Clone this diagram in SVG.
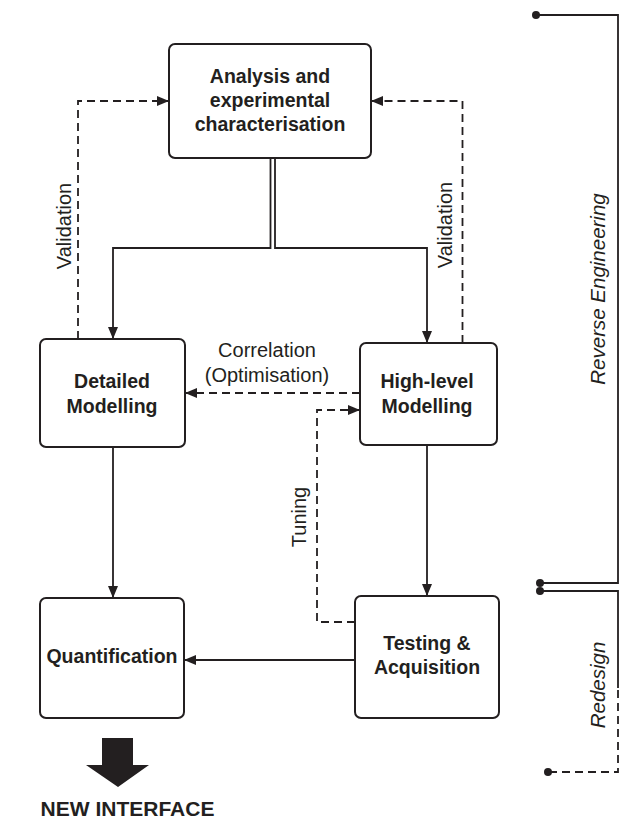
<svg xmlns="http://www.w3.org/2000/svg" width="620" height="819" viewBox="0 0 620 819">
<defs>
<style>
.box{fill:#fff;stroke:#231f20;stroke-width:2}
.ln{fill:none;stroke:#231f20;stroke-width:1.8}
.dash{fill:none;stroke:#231f20;stroke-width:1.8;stroke-dasharray:8 5}
.b{font-family:"Liberation Sans",Arial,sans-serif;font-weight:bold;font-size:19.5px;fill:#231f20;text-anchor:middle}
.r{font-family:"Liberation Sans",Arial,sans-serif;font-size:20px;fill:#231f20;text-anchor:middle}
.i{font-family:"Liberation Sans",Arial,sans-serif;font-style:italic;font-size:20.5px;fill:#231f20;text-anchor:middle}
.dot{fill:#231f20}
</style>
<marker id="ah" markerUnits="userSpaceOnUse" markerWidth="13" markerHeight="10" refX="12" refY="5" orient="auto">
<path d="M0,0 L12,5 L0,10 z" fill="#231f20"/>
</marker>
</defs>
<rect width="620" height="819" fill="#fff"/>

<g id="connectors">
<path class="ln" d="M270.5,158 V248 H113 V339" marker-end="url(#ah)"/>
<path class="ln" d="M275,158 V248 H427 V343" marker-end="url(#ah)"/>
<path class="dash" d="M78,339 V101 H169" marker-end="url(#ah)"/>
<path class="dash" d="M462.5,343 V101 H371" marker-end="url(#ah)"/>
<path class="dash" d="M360,393 H185" marker-end="url(#ah)"/>
<path class="dash" d="M355,622 H317 V410 H360" marker-end="url(#ah)"/>
<path class="ln" d="M113,447 V598" marker-end="url(#ah)"/>
<path class="ln" d="M427,445 V596" marker-end="url(#ah)"/>
<path class="ln" d="M355,660 H184" marker-end="url(#ah)"/>
<text class="r" transform="translate(71,226) rotate(-90)">Validation</text>
<text class="r" transform="translate(452,225) rotate(-90)">Validation</text>
<text class="r" x="267" y="357">Correlation</text>
<text class="r" x="267" y="382">(Optimisation)</text>
<text class="r" transform="translate(306,517) rotate(-90)">Tuning</text>
</g>

<g id="analysis">
<rect class="box" x="169" y="44" width="202" height="114" rx="6"/>
<text class="b" x="270" y="83">Analysis and</text>
<text class="b" x="270" y="107">experimental</text>
<text class="b" x="270" y="131">characterisation</text>
</g>

<g id="detailed">
<rect class="box" x="40" y="339" width="145" height="108" rx="6"/>
<text class="b" x="112" y="388">Detailed</text>
<text class="b" x="112" y="413">Modelling</text>
</g>

<g id="highlevel">
<rect class="box" x="360" y="343" width="137" height="102" rx="6"/>
<text class="b" x="427" y="388">High-level</text>
<text class="b" x="427" y="413">Modelling</text>
</g>

<g id="quantification">
<rect class="box" x="40" y="598" width="144" height="120" rx="6"/>
<text class="b" x="112" y="663">Quantification</text>
</g>

<g id="testing">
<rect class="box" x="355" y="596" width="144" height="122" rx="6"/>
<text class="b" x="427" y="650">Testing &amp;</text>
<text class="b" x="427" y="674">Acquisition</text>
</g>

<g id="newinterface">
<polygon points="102,738 133,738 133,765 149,765 118,787 86,765 102,765" fill="#231f20"/>
<text class="b" x="127.5" y="816" style="font-size:21px">NEW INTERFACE</text>
</g>

<g id="bracket">
<circle class="dot" cx="536" cy="15" r="4"/>
<path class="ln" d="M536,15 H618 V583 H540"/>
<circle class="dot" cx="540" cy="583" r="4"/>
<circle class="dot" cx="540" cy="591" r="4"/>
<path class="ln" d="M540,591 H618 V688"/>
<path class="dash" d="M618,690 V772 H548"/>
<circle class="dot" cx="548" cy="772" r="4"/>
<text class="i" transform="translate(605,289) rotate(-90)">Reverse Engineering</text>
<text class="i" transform="translate(605,685) rotate(-90)">Redesign</text>
</g>
</svg>
